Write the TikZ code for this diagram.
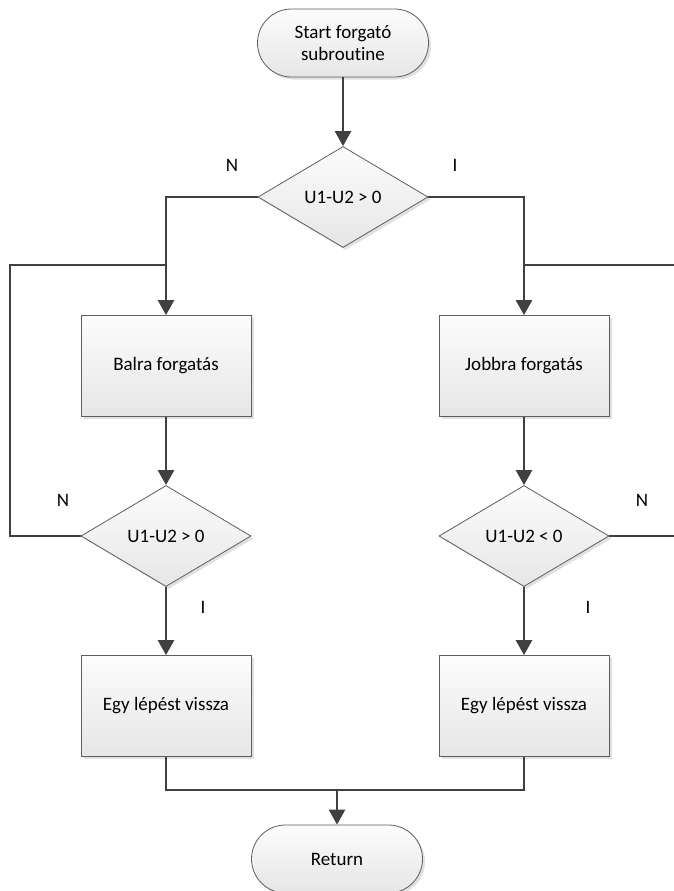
\documentclass[tikz,border=0pt]{standalone}
\usepackage{fontspec}
\setmainfont{Carlito}[Ligatures={NoCommon}, RawFeature={-liga;-clig}]
\usetikzlibrary{arrows.meta,shapes.geometric,shadows}
\definecolor{linec}{HTML}{404040}
\definecolor{bordc}{HTML}{5E5E5E}
\definecolor{fillb}{HTML}{E6E6E6}
\definecolor{fillt}{HTML}{FCFCFC}
\begin{document}
\begin{tikzpicture}[x=1pt,y=-1pt,
  font=\fontsize{19}{22}\selectfont,
  shp/.style={draw=bordc, line width=0.8pt, top color=fillt, bottom color=fillb,
    drop shadow={shadow xshift=2.5pt, shadow yshift=-2.5pt, fill=black, opacity=0.12},
    align=center, inner sep=0pt},
  procbox/.style={shp, rectangle, minimum width=170pt, minimum height=101pt},
  termbox/.style={shp, rectangle, rounded corners=34pt, minimum width=171pt, minimum height=68pt},
  decbox/.style={shp, diamond, aspect=1.7, minimum width=170pt, minimum height=101pt},
  conn/.style={draw=linec, line width=2.7pt},
  arr/.style={conn, -{Triangle[length=15pt,width=16pt]}},
  lbl/.style={text=black, inner sep=0pt}
]
\useasboundingbox (0,0) rectangle (674,891);

\node[termbox] (start) at (343,43) {Start forgató\\subroutine};
\node[decbox] (d1) at (343,197) {U1-U2 > 0};
\node[procbox] (balra) at (166,366) {Balra forgatás};
\node[procbox] (jobbra) at (524,366) {Jobbra forgatás};
\node[decbox] (d2) at (166,536) {U1-U2 > 0};
\node[decbox] (d3) at (524,536) {U1-U2 < 0};
\node[procbox] (egy1) at (166,706) {Egy lépést vissza};
\node[procbox] (egy2) at (524,706) {Egy lépést vissza};
\node[termbox] (ret) at (337,859) {Return};

\coordinate (jl) at (166,265);
\coordinate (jr) at (524,265);
\coordinate (lx) at (10,536);
\coordinate (lxt) at (10,265);
\coordinate (rxt) at (680,265);
\coordinate (rx) at (680,536);
\coordinate (mj) at (337,790);

\node[lbl] (n1) at (232,165) {N};
\node[lbl] (i1) at (455,165) {I};
\node[lbl] (n2) at (63,500) {N};
\node[lbl] (n3) at (642,500) {N};
\node[lbl] (i2) at (203,607) {I};
\node[lbl] (i3) at (588,607) {I};

\draw[arr] (start.south) -- (d1.north);
\draw[arr] (d1.west) -| (balra.north);
\draw[arr] (d1.east) -| (jobbra.north);
\draw[conn] (d2.west) -- (lx) -- (lxt) -- (jl);
\draw[conn] (jr) -- (rxt);
\draw[conn] (d3.east) -- (rx);
\draw[arr] (balra.south) -- (d2.north);
\draw[arr] (jobbra.south) -- (d3.north);
\draw[arr] (d2.south) -- (egy1.north);
\draw[arr] (d3.south) -- (egy2.north);
\draw[conn] (egy1.south) |- (mj) -| (egy2.south);
\draw[arr] (mj) -- (ret.north);
\end{tikzpicture}
\end{document}
